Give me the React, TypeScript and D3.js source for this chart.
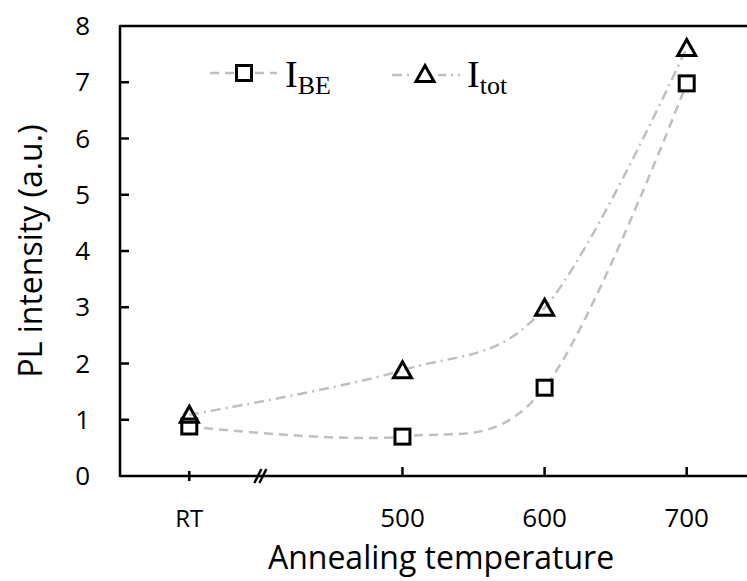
import React from "react";
import * as d3 from "d3";

const categories = ["RT", "500", "600", "700"];
const categoryPos = [0, 1.5, 2.5, 3.5];
const breakPos = 0.5;
const iBE = [0.88, 0.7, 1.57, 6.98];
const iTot = [1.09, 1.88, 2.99, 7.61];
const yTicks = [0, 1, 2, 3, 4, 5, 6, 7, 8];

const W = 747;
const H = 581;
const axisLeft = 120;
const axisTop = 26;
const axisBottom = 476;
const grey = "#BFBFBF";
const sansFont = "'Open Sans', sans-serif";
const serifFont = "'Liberation Serif', 'DejaVu Serif', serif";

export default function App() {
  const x = d3.scaleLinear().domain([0, 3.5]).range([189.3, 686.7]);
  const y = d3.scaleLinear().domain([0, 8]).range([axisBottom, axisTop]);

  const line = d3
    .line<number>()
    .x((_, i) => x(categoryPos[i]))
    .y((d) => y(d))
    .curve(d3.curveCatmullRom.alpha(0));

  const triPath = "M0,-8.5L9,7.5L-9,7.5Z";
  const legendY = 73;
  const bx = x(breakPos);

  return (
    <svg
      width={W}
      height={H}
      style={{ position: "absolute", left: 0, top: 0, background: "#fff" }}
    >
      {/* frame */}
      <line x1={axisLeft} x2={W} y1={axisTop} y2={axisTop} stroke="#000" strokeWidth={2.5} />
      <line x1={axisLeft} x2={axisLeft} y1={axisTop - 1} y2={axisBottom + 1} stroke="#000" strokeWidth={2.5} />
      <line x1={axisLeft} x2={W} y1={axisBottom} y2={axisBottom} stroke="#000" strokeWidth={2.5} />

      {/* y ticks */}
      {yTicks.map((t) => (
        <g key={"yt" + t}>
          {t > 0 && t < 8 && (
            <line x1={axisLeft} x2={axisLeft + 9} y1={y(t)} y2={y(t)} stroke="#000" strokeWidth={2.5} />
          )}
          <text
            x={90}
            y={y(t)}
            dy="0.35em"
            textAnchor="end"
            fontFamily={sansFont}
            fontSize={26}
            fill="#000"
          >
            {t}
          </text>
        </g>
      ))}

      {/* x ticks */}
      {categories.map((c, i) => {
        const px = x(categoryPos[i]);
        return (
          <g key={"xt" + c}>
            {i === 0 ? (
              <line x1={px} x2={px} y1={axisBottom - 5} y2={axisBottom + 5} stroke="#000" strokeWidth={2.5} />
            ) : (
              <line x1={px} x2={px} y1={axisBottom - 9} y2={axisBottom} stroke="#000" strokeWidth={2.5} />
            )}
            <text
              x={px}
              y={527}
              textAnchor="middle"
              fontFamily={sansFont}
              fontSize={i === 0 ? 24 : 26}
              fill="#000"
            >
              {c}
            </text>
          </g>
        );
      })}

      {/* axis break */}
      <line x1={bx - 6} y1={axisBottom + 7} x2={bx + 1} y2={axisBottom - 7} stroke="#000" strokeWidth={2.5} />
      <line x1={bx - 1} y1={axisBottom + 7} x2={bx + 6} y2={axisBottom - 7} stroke="#000" strokeWidth={2.5} />

      {/* axis titles */}
      <text
        x={(255 + 627) / 2}
        y={569}
        textAnchor="middle"
        fontFamily={sansFont}
        fontSize={32}
        fill="#000"
      >
        Annealing temperature
      </text>
      <text
        transform={`translate(42,${(axisTop + axisBottom) / 2}) rotate(-90)`}
        textAnchor="middle"
        fontFamily={sansFont}
        fontSize={32}
        fill="#000"
      >
        PL intensity (a.u.)
      </text>

      {/* series lines */}
      <path d={line(iBE) || ""} fill="none" stroke={grey} strokeWidth={2.5} strokeDasharray="9 6" />
      <path d={line(iTot) || ""} fill="none" stroke={grey} strokeWidth={2.5} strokeDasharray="10 5 2 5" />

      {/* markers */}
      {iBE.map((v, i) => (
        <rect
          key={"sq" + i}
          x={x(categoryPos[i]) - 7.5}
          y={y(v) - 7.5}
          width={15}
          height={15}
          fill="#fff"
          stroke="#000"
          strokeWidth={3}
        />
      ))}
      {iTot.map((v, i) => (
        <path
          key={"tr" + i}
          d={triPath}
          transform={`translate(${x(categoryPos[i])},${y(v)})`}
          fill="none"
          stroke="#000"
          strokeWidth={3}
        />
      ))}

      {/* legend */}
      <line x1={210} x2={277} y1={legendY} y2={legendY} stroke={grey} strokeWidth={2.5} strokeDasharray="9 6" />
      <rect x={244 - 7.5} y={legendY - 7.5} width={15} height={15} fill="#fff" stroke="#000" strokeWidth={3} />
      <text x={285} y={87} fontFamily={serifFont} fill="#000">
        <tspan fontSize={38}>I</tspan>
        <tspan fontSize={26} dy={7}>BE</tspan>
      </text>

      <line x1={392} x2={460} y1={legendY + 2} y2={legendY + 2} stroke={grey} strokeWidth={2.5} strokeDasharray="10 5 2 5" />
      <rect x={412} y={legendY - 9} width={26} height={20} fill="#fff" />
      <path d={triPath} transform={`translate(425,${legendY + 1})`} fill="none" stroke="#000" strokeWidth={3} />
      <text x={467} y={87} fontFamily={serifFont} fill="#000">
        <tspan fontSize={38}>I</tspan>
        <tspan fontSize={26} dy={7}>tot</tspan>
      </text>
    </svg>
  );
}
